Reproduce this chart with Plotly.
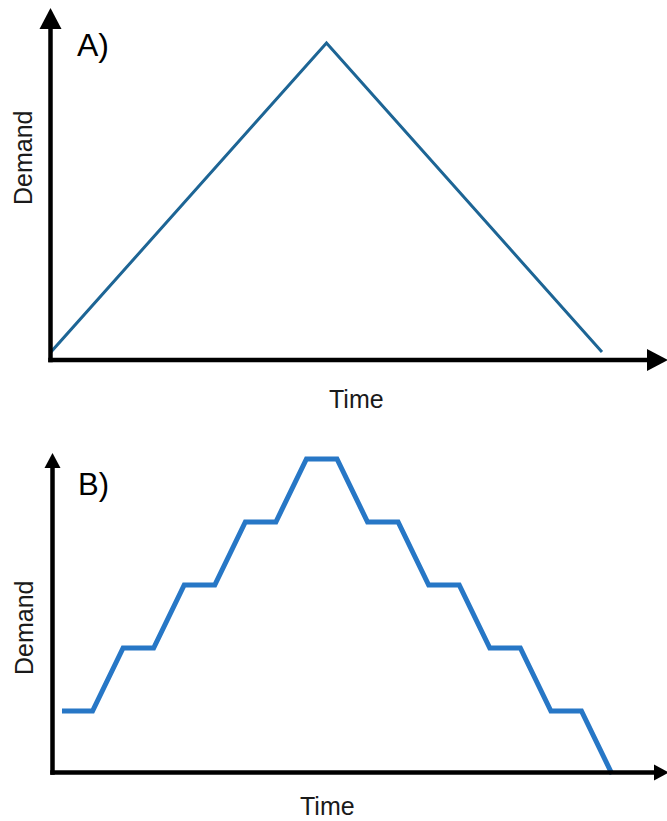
import plotly.graph_objects as go

# ----------------------------------------------------------------------------
# DATA
# ----------------------------------------------------------------------------
time_a = [0, 5, 10]
demand_a = [0, 10, 0]

time_b = list(range(19))
demand_b = [1, 1, 2, 2, 3, 3, 4, 4, 5, 5, 4, 4, 3, 3, 2, 2, 1, 1, 0]

panel_labels = ["A)", "B)"]
x_title = "Time"
y_title = "Demand"

W, H = 667, 821
FONT = "Liberation Sans, Arial, sans-serif"


def px(x):
    return x / W


def py(y):
    return 1 - y / H


fig = go.Figure()

fig.add_trace(go.Scatter(
    x=time_a, y=demand_a, mode='lines',
    line=dict(color='#1d6595', width=3),
    xaxis='x', yaxis='y', showlegend=False, hoverinfo='skip'
))

fig.add_trace(go.Scatter(
    x=time_b, y=demand_b, mode='lines',
    line=dict(color='#2777c6', width=5),
    xaxis='x2', yaxis='y2', showlegend=False, hoverinfo='skip'
))

hidden = dict(showgrid=False, zeroline=False, showticklabels=False,
              showline=False, ticks='', fixedrange=True)

fig.update_layout(
    width=W, height=H,
    margin=dict(l=0, r=0, t=0, b=0),
    plot_bgcolor='white', paper_bgcolor='white',
    xaxis=dict(domain=[px(50), 1], range=[-0.018, 11.18], **hidden),
    yaxis=dict(domain=[py(360), py(8)], range=[-0.259, 11.13], **hidden),
    xaxis2=dict(domain=[px(52), 1], range=[-0.327, 19.8], anchor='y2', **hidden),
    yaxis2=dict(domain=[py(775), py(453)], range=[-0.016, 5.095], anchor='x2', **hidden),
)


# axis arrows (drawn as shapes in pixel-ish paper coords)
def arrow_axes(ox, oy, top, right, head_w, head_l, lw):
    shapes = [
        dict(type='line', xref='paper', yref='paper',
             x0=px(ox), y0=py(oy + lw / 2), x1=px(ox), y1=py(top + head_l - 1),
             line=dict(color='black', width=lw)),
        dict(type='line', xref='paper', yref='paper',
             x0=px(ox - lw / 2), y0=py(oy), x1=px(right - head_l + 1), y1=py(oy),
             line=dict(color='black', width=lw)),
        dict(type='path', xref='paper', yref='paper', line=dict(width=0),
             fillcolor='black',
             path=f"M {px(ox - head_w / 2)},{py(top + head_l)} L {px(ox + head_w / 2)},{py(top + head_l)} "
                  f"L {px(ox)},{py(top)} Z"),
        dict(type='path', xref='paper', yref='paper', line=dict(width=0),
             fillcolor='black',
             path=f"M {px(right - head_l)},{py(oy - head_w / 2)} L {px(right - head_l)},{py(oy + head_w / 2)} "
                  f"L {px(right)},{py(oy)} Z"),
    ]
    return shapes


shapes = arrow_axes(50.5, 360, 8, 668, 22, 21, 4.5)
shapes += arrow_axes(52.5, 772.5, 453, 669, 16, 15, 4.5)
fig.update_layout(shapes=shapes)

annotations = [
    dict(text=panel_labels[0], x=px(75), y=py(45), xanchor='left', yanchor='middle',
         font=dict(size=32, color='black', family=FONT)),
    dict(text=panel_labels[1], x=px(76), y=py(484), xanchor='left', yanchor='middle',
         font=dict(size=31, color='black', family=FONT)),
    dict(text=x_title, x=px(357), y=py(399), xanchor='center', yanchor='middle',
         font=dict(size=25, color='#1a1a1a', family=FONT)),
    dict(text=x_title, x=px(327), y=py(806), xanchor='center', yanchor='middle',
         font=dict(size=25, color='#1a1a1a', family=FONT)),
    dict(text=y_title, x=px(23), y=py(158), xanchor='center', yanchor='middle', textangle=-90,
         font=dict(size=25, color='#1a1a1a', family=FONT)),
    dict(text=y_title, x=px(24), y=py(627), xanchor='center', yanchor='middle', textangle=-90,
         font=dict(size=25, color='#1a1a1a', family=FONT)),
]
for a in annotations:
    a.update(xref='paper', yref='paper', showarrow=False)
fig.update_layout(annotations=annotations)

# drop the default 8px body margin so the figure fills the window exactly
fig.write_html("out.html", config={'displayModeBar': False},
               post_script="document.body.style.margin='0';")
